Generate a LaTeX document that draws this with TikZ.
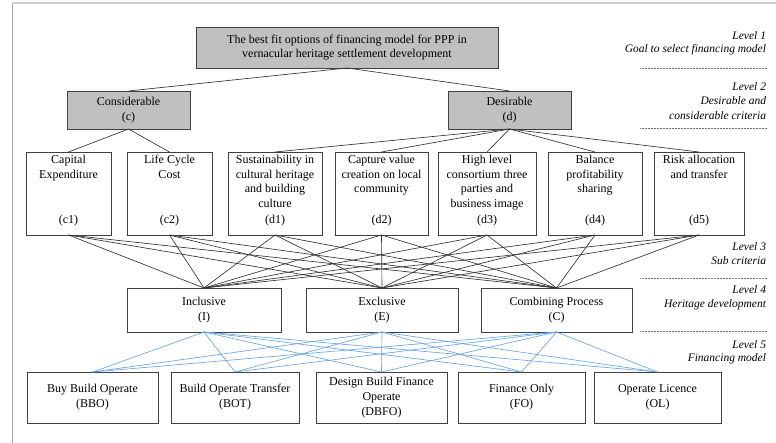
\documentclass[tikz,border=0pt]{standalone}
\usepackage{fontspec}
\setmainfont{Liberation Serif}
\definecolor{boxfill}{RGB}{192,192,192}
\definecolor{boxline}{RGB}{64,64,64}
\definecolor{linedark}{RGB}{50,50,50}
\definecolor{linkblue}{RGB}{105,165,225}
\definecolor{frameleft}{RGB}{165,165,165}
\definecolor{frametop}{RGB}{205,205,205}
\definecolor{sepgray}{RGB}{110,110,110}
\begin{document}
\begin{tikzpicture}[x=1pt,y=-1pt,
  every node/.style={font=\fontsize{12}{14.5}\selectfont, inner sep=0pt, outer sep=0pt},
  box/.style={draw=boxline, line width=0.8pt, align=center},
  greybox/.style={box, fill=boxfill},
  txt/.style={align=center},
  lvl/.style={anchor=mid east, font=\fontsize{11.5}{14}\selectfont\itshape},
  darklink/.style={draw=linedark, line width=0.65pt},
  bluelink/.style={draw=linkblue, line width=0.65pt},
  sepline/.style={draw=sepgray, line width=0.5pt, dash pattern=on 0.5pt off 1pt}]
\useasboundingbox (0,0) rectangle (776,443);
% frame
\draw[frameleft, line width=1pt] (12,443) -- (12,3);
\draw[frametop, line width=1.5pt] (12,3) -- (776,3);
% level 1 and 2
\node[greybox, minimum width=302pt, minimum height=41pt] (goal) at (347,47.5)
  {The best fit options of financing model for PPP in\\vernacular heritage settlement development};
\node[greybox, minimum width=123pt, minimum height=38pt, font=\fontsize{12}{15.5}\selectfont] (cons) at (128.5,110) {Considerable\\(c)};
\node[greybox, minimum width=123pt, minimum height=38pt, font=\fontsize{12}{15.5}\selectfont] (des) at (509.5,110) {Desirable\\(d)};
% criteria
\node[box, minimum width=85pt, minimum height=83pt] (c1) at (68.5,193.5) {};
\node[box, minimum width=85pt, minimum height=83pt] (c2) at (169.5,193.5) {};
\node[box, minimum width=94pt, minimum height=83pt] (d1) at (275,193.5) {};
\node[box, minimum width=93pt, minimum height=83pt] (d2) at (381.5,193.5) {};
\node[box, minimum width=98pt, minimum height=83pt] (d3) at (487,193.5) {};
\node[box, minimum width=94pt, minimum height=83pt] (d4) at (595,193.5) {};
\node[box, minimum width=90pt, minimum height=83pt] (d5) at (699,193.5) {};
\node[txt, anchor=north] (c1t) at ([yshift=-3.5pt]c1.north) {Capital\\Expenditure};
\node[txt, anchor=north] (c2t) at ([yshift=-3.5pt]c2.north) {Life Cycle\\Cost};
\node[txt, anchor=north] (d1t) at ([yshift=-3.5pt]d1.north) {Sustainability in\\cultural heritage\\and building\\culture};
\node[txt, anchor=north] (d2t) at ([yshift=-3.5pt]d2.north) {Capture value\\creation on local\\community};
\node[txt, anchor=north] (d3t) at ([yshift=-3.5pt]d3.north) {High level\\consortium three\\parties and\\business image};
\node[txt, anchor=north] (d4t) at ([yshift=-3.5pt]d4.north) {Balance\\profitability\\sharing};
\node[txt, anchor=north] (d5t) at ([yshift=-3.5pt]d5.north) {Risk allocation\\and transfer};
\node (c1l) at (68.5,220.5) {(c1)};
\node (c2l) at (169.5,220.5) {(c2)};
\node (d1l) at (275,220.5) {(d1)};
\node (d2l) at (381.5,220.5) {(d2)};
\node (d3l) at (487,220.5) {(d3)};
\node (d4l) at (595,220.5) {(d4)};
\node (d5l) at (699,220.5) {(d5)};
% level 4
\node[box, minimum width=154pt, minimum height=44pt, font=\fontsize{12}{15.5}\selectfont] (I) at (204,310) {Inclusive\\(I)};
\node[box, minimum width=152pt, minimum height=44pt, font=\fontsize{12}{15.5}\selectfont] (E) at (382,310) {Exclusive\\(E)};
\node[box, minimum width=151pt, minimum height=44pt, font=\fontsize{12}{15.5}\selectfont] (C) at (556.5,310) {Combining Process\\(C)};
% level 5
\node[box, minimum width=131pt, minimum height=51pt, font=\fontsize{12}{15}\selectfont] (BBO) at (92.5,397.5) {Buy Build Operate\\(BBO)};
\node[box, minimum width=128pt, minimum height=51pt, font=\fontsize{12}{15}\selectfont] (BOT) at (235,397.5) {Build Operate Transfer\\(BOT)};
\node[box, minimum width=131pt, minimum height=51pt, font=\fontsize{12}{15}\selectfont] (DBFO) at (381.5,397.5) {Design Build Finance\\Operate\\(DBFO)};
\node[box, minimum width=127pt, minimum height=51pt, font=\fontsize{12}{15}\selectfont] (FO) at (521.5,397.5) {Finance Only\\(FO)};
\node[box, minimum width=127pt, minimum height=51pt, font=\fontsize{12}{15}\selectfont] (OL) at (657.5,397.5) {Operate Licence\\(OL)};
% connectors
\draw[darklink] (goal.south) -- (cons.north);
\draw[darklink] (goal.south) -- (des.north);
\foreach \t in {c1,c2} \draw[darklink] (cons.south) -- (\t.north);
\foreach \t in {d1,d2,d3,d4,d5} \draw[darklink] (des.south) -- (\t.north);
\foreach \s in {c1,c2,d1,d2,d3,d4,d5}
  \foreach \t in {I,E,C} \draw[darklink] (\s.south) -- (\t.north);
\foreach \s in {I,E,C}
  \foreach \t in {BBO,BOT,DBFO,FO,OL} \draw[bluelink] (\s.south) -- (\t.north);
% level labels
\node[lvl] (lv1a) at (766,37) {Level 1};
\node[lvl] (lv1b) at (766,50) {Goal to select financing model};
\draw[sepline] (640,68) -- (767,68);
\node[lvl] (lv2a) at (766,88) {Level 2};
\node[lvl] (lv2b) at (766,102) {Desirable and};
\node[lvl] (lv2c) at (766,117) {considerable criteria};
\draw[sepline] (640,128) -- (767,128);
\node[lvl] (lv3a) at (766,248) {Level 3};
\node[lvl] (lv3b) at (766,262) {Sub criteria};
\draw[sepline] (640,278) -- (767,278);
\node[lvl] (lv4a) at (766,291) {Level 4};
\node[lvl] (lv4b) at (766,305) {Heritage development};
\draw[sepline] (640,331) -- (767,331);
\node[lvl] (lv5a) at (766,346) {Level 5};
\node[lvl] (lv5b) at (766,359) {Financing model};
\end{tikzpicture}
\end{document}
